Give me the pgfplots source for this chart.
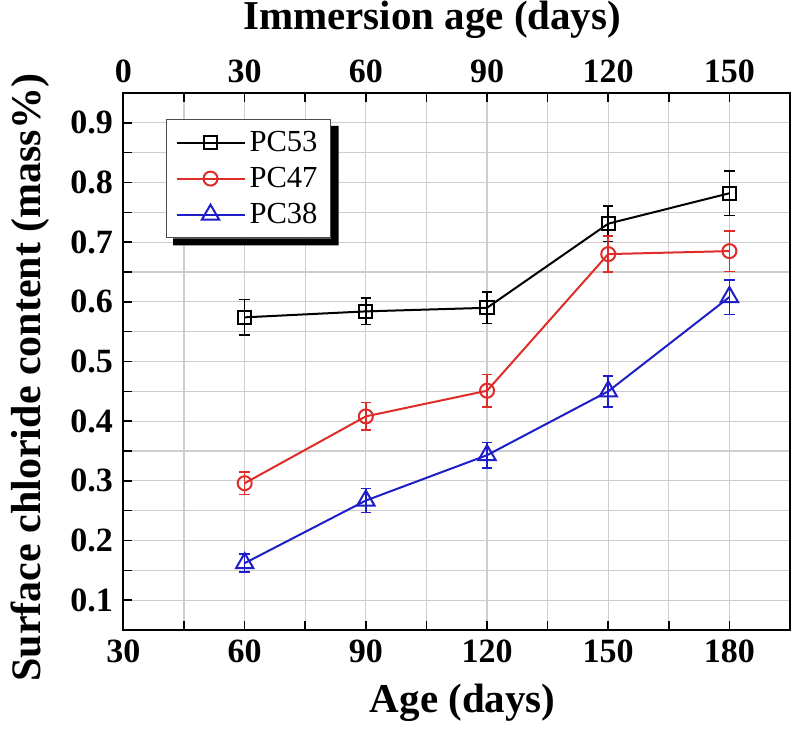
\documentclass[border=0pt]{standalone}
\usepackage{pgfplots}
\pgfplotsset{compat=1.18}
\usepackage{fontspec}
\setmainfont{Liberation Serif}
\definecolor{myred}{RGB}{222,45,40}
\definecolor{myblue}{RGB}{30,30,200}
\definecolor{gridgray}{RGB}{205,205,205}
\begin{document}
\begin{tikzpicture}
\begin{axis}[
  scale only axis,
  width=333.25pt, height=268.5pt,
  xmin=30, xmax=195, ymin=0.05, ymax=0.95,
  xtick={30,60,90,120,150,180},
  minor xtick={45,75,105,135,165},
  ytick={0.1,0.2,0.3,0.4,0.5,0.6,0.7,0.8,0.9},
  minor ytick={0.05,0.15,0.25,0.35,0.45,0.55,0.65,0.75,0.85},
  yticklabels={0.1,0.2,0.3,0.4,0.5,0.6,0.7,0.8,0.9},
  xtick pos=left, ytick pos=left,
  tick align=inside,
  major tick length=4.5pt, minor tick length=4.5pt,
  every tick/.style={black, line width=0.8pt},
  grid=both,
  major grid style={gridgray, line width=0.6pt},
  minor grid style={gridgray, line width=0.6pt},
  axis line style={black, line width=1pt},
  /pgf/number format/assume math mode=true,
  tick label style={font=\bfseries\fontsize{17}{20}\selectfont},
  xticklabel style={yshift=-1.5pt},
  yticklabel style={xshift=-1.8pt},
  xlabel={Age (days)},
  ylabel={Surface chloride content (mass\%)},
  label style={font=\bfseries\fontsize{20.5}{24}\selectfont},
  xlabel style={at={(axis description cs:0.509,-0.136)}, anchor=center},
  ylabel style={at={(axis description cs:-0.1403,0.47)}, anchor=center, rotate=0, font=\bfseries\fontsize{21}{24}\selectfont},
  legend style={at={(0.0638,0.9516)}, anchor=north west, name=leg,
    font=\fontsize{15.3}{17}\selectfont,
    draw=black!70, line width=0.5pt, fill=white,
    nodes={inner xsep=2pt, inner ysep=2.2pt},
    row sep=2pt, inner xsep=4.5pt, inner ysep=3.5pt},
  legend cell align=left,
  legend image code/.code={\draw[mark repeat=2,mark phase=2] plot coordinates {(0pt,0pt) (17pt,0pt) (34pt,0pt)};},
  error bars/y dir=both, error bars/y explicit,
  error bars/error mark options={rotate=90, mark size=2.6pt, line width=0.8pt},
  error bars/error bar style={line width=0.8pt},
]
\addplot[black, line width=1pt, mark=square, mark size=3.3pt, mark options={solid, fill=white, line width=1pt}]
  table[x=x, y=y, y error=e] {
x y e
60 0.574 0.030
90 0.584 0.022
120 0.590 0.026
150 0.731 0.030
180 0.782 0.037
};
\addlegendentry{PC53}
\addplot[myred, line width=1pt, mark=o, mark size=3.5pt, mark options={solid, fill=white, line width=1pt}]
  table[x=x, y=y, y error=e] {
x y e
60 0.296 0.019
90 0.408 0.023
120 0.451 0.027
150 0.680 0.030
180 0.685 0.034
};
\addlegendentry{PC47}
\addplot[myblue, line width=1pt, mark=triangle, mark size=5pt, mark options={solid, fill=white, line width=1pt}]
  table[x=x, y=y, y error=e] {
x y e
60 0.162 0.015
90 0.267 0.020
120 0.343 0.021
150 0.450 0.026
180 0.608 0.029
};
\addlegendentry{PC38}
\end{axis}
\fill[black] ([xshift=3.5pt]leg.south west) -- ([xshift=3.5pt,yshift=-3.5pt]leg.south west) -- ([xshift=3.8pt,yshift=-3.5pt]leg.south east) -- ([xshift=3.8pt,yshift=-3.5pt]leg.north east) -- ([yshift=-3.5pt]leg.north east) -- (leg.south east) -- cycle;
\begin{axis}[
  scale only axis,
  width=333.25pt, height=268.5pt,
  xmin=0, xmax=165, ymin=0.05, ymax=0.95,
  axis x line*=top, axis y line=none,
  xtick={0,30,60,90,120,150},
  minor xtick={15,45,75,105,135,165},
  tick align=inside,
  major tick length=4.5pt, minor tick length=4.5pt,
  every tick/.style={black, line width=0.8pt},
  axis line style={black, line width=1pt},
  /pgf/number format/assume math mode=true,
  tick label style={font=\bfseries\fontsize{17}{20}\selectfont},
  xticklabel style={yshift=1.5pt},
  xlabel={Immersion age (days)},
  label style={font=\bfseries\fontsize{20.5}{24}\selectfont},
  xlabel style={at={(axis description cs:0.463,1.136)}, anchor=center},
]
\end{axis}
\pgfresetboundingbox
\path ([xshift=-61.75pt,yshift=-53pt]current axis.south west) rectangle ([xshift=3.5pt,yshift=46.5pt]current axis.north east);
\end{tikzpicture}
\end{document}
